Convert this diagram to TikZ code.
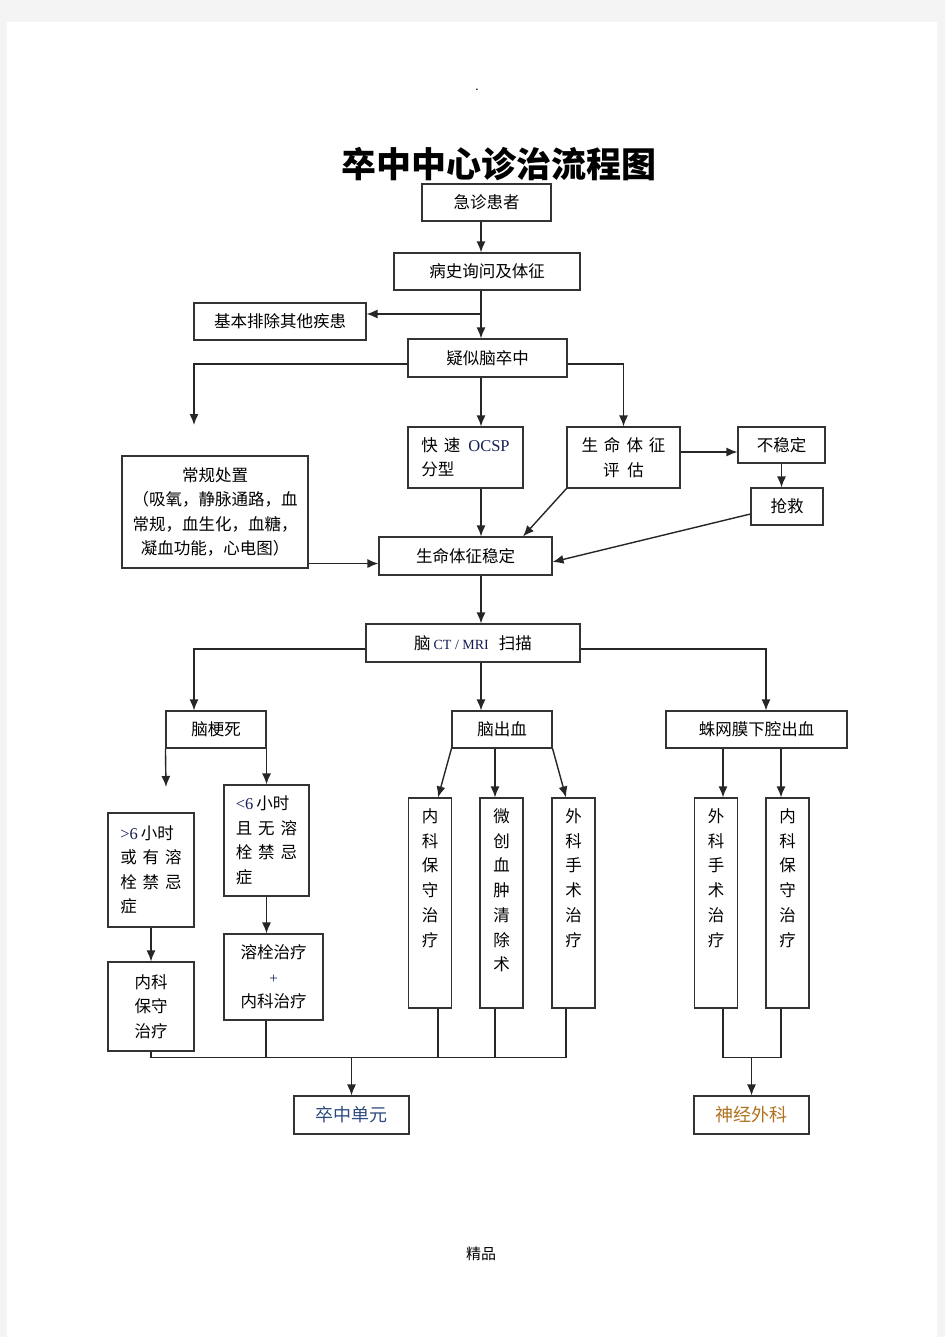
\documentclass[tikz,border=0pt]{standalone}
\usepackage{fontspec}
\setmainfont{Noto Sans CJK SC}
\newfontfamily\lat{Liberation Serif}
\usetikzlibrary{arrows.meta}

\definecolor{pagegray}{RGB}{244,244,244}
\definecolor{latblue}{RGB}{20,30,85}
\definecolor{unitblue}{RGB}{45,75,125}
\definecolor{neuroorange}{RGB}{175,115,30}
\newcommand{\chgap}{\hspace{6pt}}

\begin{document}
\begin{tikzpicture}[x=1pt,y=-1pt,
    box/.style={draw=black!80, line width=1.1pt, inner sep=0pt, align=center,
      font=\fontsize{16.5}{24.5}\selectfont},
    tallbox/.style={box, minimum width=43, minimum height=210},
    tallbody/.style={anchor=north, align=center, inner sep=0pt, yshift=-11pt,
      font=\fontsize{16.5}{24.7}\selectfont},
    link/.style={line width=1.4pt, black!85},
    arr/.style={link, -{Latex[length=11pt,width=9pt]}}]

  % page
  \fill[pagegray] (0,0) rectangle (945,1337);
  \fill[white] (7,22) rectangle (937,1337);
  \useasboundingbox (0,0) rectangle (945,1337);

  \node[font=\fontsize{12}{12}\selectfont] (topdot) at (477,90) {.};
  \node[font=\bfseries\fontsize{35}{35}\selectfont] (title) at (499,164) {卒中中心诊治流程图};
  \node[font=\fontsize{15}{15}\selectfont] (footer) at (481,1254) {精品};

  % upper part
  \node[box, minimum width=129, minimum height=37] (emerg) at (486.5,202.5) {急诊患者};
  \node[box, minimum width=186, minimum height=37] (hist) at (487,271.5) {病史询问及体征};
  \node[box, minimum width=172, minimum height=37] (excl) at (280,321.5) {基本排除其他疾患};
  \node[box, minimum width=159, minimum height=38] (susp) at (487.5,358) {疑似脑卒中};
  \node[box, align=left, minimum width=115, minimum height=61] (ocsp) at (465.5,457.5)
    {快\chgap 速\hspace{8pt}{\lat\color{latblue}OCSP}\\分型};
  \node[box, minimum width=113, minimum height=61] (vital) at (623.5,457.5)
    {生\chgap 命\chgap 体\chgap 征\\评\hspace{8pt}估};
  \node[box, minimum width=87, minimum height=36] (unst) at (781.5,445) {不稳定};
  \node[box, minimum width=72, minimum height=37] (resc) at (787,506.5) {抢救};
  \node[box, minimum width=186, minimum height=112] (routine) at (215,512)
    {常规处置\\（吸氧，静脉通路，血\\常规，血生化，血糖，\\凝血功能，心电图）};
  \node[box, minimum width=173, minimum height=38] (stable) at (465.5,556) {生命体征稳定};
  \node[box, minimum width=214, minimum height=38] (scan) at (473,643)
    {脑\hspace{3pt}{\lat\color{latblue}\fontsize{14}{14}\selectfont CT / MRI}\hspace{10pt}扫描};

  % three branches
  \node[box, minimum width=100, minimum height=37] (infarct) at (216,729.5) {脑梗死};
  \node[box, minimum width=100, minimum height=37] (ich) at (502,729.5) {脑出血};
  \node[box, minimum width=181, minimum height=37] (sah) at (756.5,729.5) {蛛网膜下腔出血};

  \node[box, align=left, minimum width=86, minimum height=114] (gt6) at (151,870)
    {{\lat\color{latblue}>6}\hspace{3pt}小时\\或\chgap 有\chgap 溶\\栓\chgap 禁\chgap 忌\\症};
  \node[box, align=left, minimum width=85, minimum height=111] (lt6) at (266.5,840.5)
    {{\lat\color{latblue}<6}\hspace{3pt}小时\\且\chgap 无\chgap 溶\\栓\chgap 禁\chgap 忌\\症};
  \node[box, minimum width=86, minimum height=89] (medL) at (151,1006.5) {内科\\保守\\治疗};
  \node[box, minimum width=99, minimum height=86] (thromb) at (273.5,977)
    {溶栓治疗\\{\lat\color{latblue}\fontsize{15}{15}\selectfont +}\\内科治疗};

  \node[tallbox, label={[tallbody]north:{内\\科\\保\\守\\治\\疗}}] (ichmed) at (430,903) {};
  \node[tallbox, label={[tallbody]north:{微\\创\\血\\肿\\清\\除\\术}}] (ichmin) at (501.5,903) {};
  \node[tallbox, label={[tallbody]north:{外\\科\\手\\术\\治\\疗}}] (ichsurg) at (573.5,903) {};
  \node[tallbox, label={[tallbody]north:{外\\科\\手\\术\\治\\疗}}] (sahsurg) at (716,903) {};
  \node[tallbox, label={[tallbody]north:{内\\科\\保\\守\\治\\疗}}] (sahmed) at (787.5,903) {};

  \node[box, minimum width=115, minimum height=38, font=\fontsize{18}{18}\selectfont] (unit) at (351.5,1115)
    {\color{unitblue}卒中单元};
  \node[box, minimum width=115, minimum height=38, font=\fontsize{18}{18}\selectfont] (neuro) at (751.5,1115)
    {\color{neuroorange}神经外科};

  % connectors
  \coordinate (spine) at (481,0);
  \coordinate (bus) at (0,1057.5);

  \draw[arr] (emerg.south -| spine) -- (hist.north -| spine);
  \draw[arr] (hist.south -| spine) -- (susp.north -| spine);
  \coordinate (exclin) at ([yshift=7.5pt]excl.east);
  \draw[arr] (exclin -| spine) -- (exclin);
  \coordinate (leftend) at (194,425);
  \draw[arr] ([yshift=-6pt]susp.west) -| (leftend);
  \draw[arr] ([yshift=-6pt]susp.east) -| (vital.north);
  \draw[arr] (susp.south -| spine) -- (ocsp.north -| spine);

  \coordinate (vitalout) at ([yshift=5.5pt]vital.east);
  \draw[arr] (vitalout) -- (vitalout -| unst.west);
  \draw[arr] (unst.south) -- (unst.south |- resc.north);
  \draw[arr] ([yshift=-7.5pt]resc.west) -- ([yshift=-6pt]stable.east);
  \draw[arr] (vital.south west) -- ([xshift=57.5pt]stable.north);
  \draw[arr] (ocsp.south -| spine) -- (stable.north -| spine);
  \coordinate (routineout) at ([yshift=5pt]routine.south east);
  \draw[arr] (routineout) -- (routineout -| stable.west);
  \draw[arr] (stable.south -| spine) -- (scan.north -| spine);

  \draw[arr] ([yshift=-6pt]scan.west) -| ([xshift=-22pt]infarct.north);
  \draw[arr] ([yshift=-6pt]scan.east) -| ([xshift=9.5pt]sah.north);
  \draw[arr] (scan.south -| spine) -- (ich.north -| spine);

  % cerebral infarction
  \coordinate (infend) at (166,787);
  \draw[arr] (infarct.south west) -- (infend);
  \draw[arr] (infarct.south east) -- (infarct.south east |- lt6.north);
  \draw[arr] (gt6.south) -- (medL.north);
  \draw[arr] (lt6.south) -- (lt6.south |- thromb.north);

  % haemorrhage
  \draw[arr] (ich.south west) -- ([xshift=8pt]ichmed.north);
  \coordinate (ichmid) at ([xshift=-7pt]ich.south);
  \draw[arr] (ichmid) -- (ichmid |- ichmin.north);
  \draw[arr] (ich.south east) -- ([xshift=-7.5pt]ichsurg.north);

  \coordinate (sahl) at ([xshift=7pt]sahsurg.north);
  \coordinate (sahr) at ([xshift=-6.5pt]sahmed.north);
  \draw[arr] (sahl |- sah.south) -- (sahl);
  \draw[arr] (sahr |- sah.south) -- (sahr);

  % collecting lines
  \coordinate (ichsurgdrop) at ([xshift=-7.5pt]ichsurg.south);
  \draw[link] (medL.south) |- (bus -| ichsurgdrop) -- (ichsurgdrop);
  \foreach \n/\dx in {thromb/-7.5, ichmed/8, ichmin/-6.5}
    \draw[link] ([xshift=\dx pt]\n.south) coordinate (drop) -- (drop |- bus);
  \draw[arr] (unit.north |- bus) -- (unit.north);

  \coordinate (sahld) at ([xshift=7pt]sahsurg.south);
  \coordinate (sahrd) at ([xshift=-6.5pt]sahmed.south);
  \draw[link] (sahld) |- (bus -| sahrd) -- (sahrd);
  \draw[arr] (neuro.north |- bus) -- (neuro.north);
\end{tikzpicture}
\end{document}
